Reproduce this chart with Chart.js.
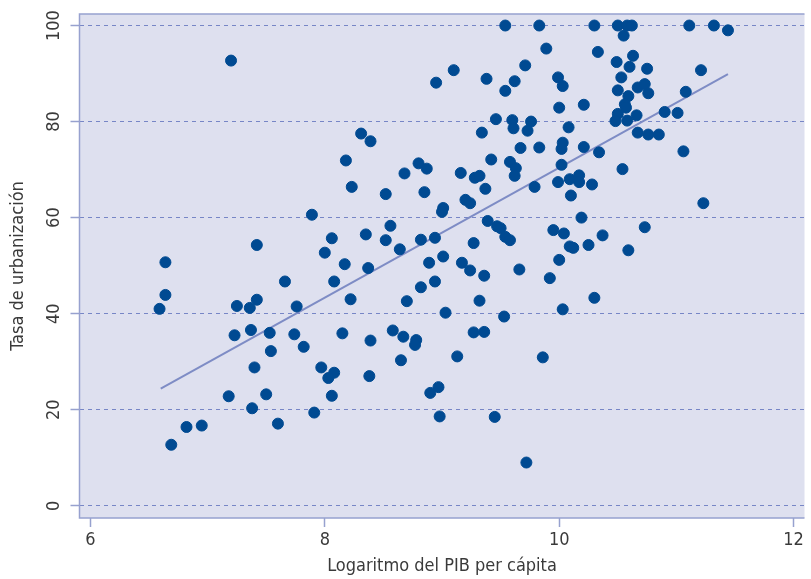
<!DOCTYPE html>
<html>
<head>
<meta charset="utf-8">
<script src="https://cdn.jsdelivr.net/npm/chart.js@4.4.1/dist/chart.umd.min.js"></script>
<style>
    body { margin: 0; background: #ffffff; }
    #wrap { width: 811px; height: 579px; }
</style>
</head>
<body>
<div id="wrap"><canvas id="chart"></canvas></div>
<script>
// log GDP per capita / urbanization rate
const logGdp = [
    9.54, 9.83, 10.30, 10.50, 10.58, 10.62, 11.11, 11.32, 11.44, 10.55,
    7.20, 9.89, 10.33, 10.49, 10.63, 10.60, 10.75, 9.10, 9.71, 11.21,
    9.38, 8.95, 9.62, 9.99, 10.03, 10.53, 9.54, 10.50, 10.67, 10.73,
    10.59, 10.76, 11.08, 10.21, 10.00, 10.56, 10.57, 10.50, 10.48, 10.58,
    10.66, 10.90, 11.01, 9.46, 9.60, 9.76, 9.61, 9.73, 10.08, 9.34,
    8.31, 8.39, 10.67, 10.76, 10.85, 9.67, 9.83, 10.03, 10.02, 10.21,
    10.34, 11.06, 8.18, 9.42, 9.58, 8.80, 8.87, 9.63, 10.02, 10.54,
    8.68, 9.16, 9.28, 9.32, 9.62, 10.09, 10.17, 10.17, 9.99, 10.28,
    8.23, 9.79, 9.37, 8.85, 8.52, 10.10, 9.20, 9.24, 9.01, 9.00,
    11.23, 7.89, 10.19, 9.39, 8.56, 9.47, 9.50, 9.95, 10.73, 8.35,
    10.04, 9.54, 9.58, 10.37, 8.06, 8.52, 8.82, 8.94, 9.27, 7.42,
    10.09, 10.12, 10.25, 8.64, 10.59, 8.00, 9.01, 10.00, 6.64, 8.17,
    8.89, 9.17, 8.37, 9.24, 9.66, 9.36, 9.92, 7.66, 8.08, 8.94,
    8.82, 6.64, 10.30, 8.22, 7.42, 9.32, 8.70, 7.25, 7.36, 7.76,
    6.59, 10.03, 9.03, 9.53, 7.23, 7.37, 7.53, 7.74, 8.15, 8.58,
    8.67, 9.27, 9.36, 8.39, 8.78, 8.77, 7.82, 7.54, 9.13, 9.86,
    8.65, 7.40, 7.97, 8.08, 8.03, 8.38, 8.97, 8.90, 7.18, 7.50,
    8.06, 7.38, 7.91, 8.98, 9.45, 7.60, 6.82, 6.95, 6.69, 9.72
];
const urbanRate = [
    100, 100, 100, 100, 100, 100, 100, 100, 99.0, 97.9,
    92.7, 95.2, 94.5, 92.4, 93.7, 91.4, 91.0, 90.7, 91.7, 90.7,
    88.9, 88.1, 88.4, 89.2, 87.4, 89.2, 86.4, 86.5, 87.1, 87.8,
    85.3, 85.9, 86.2, 83.5, 82.9, 83.6, 82.9, 81.6, 80.1, 80.2,
    81.3, 82.0, 81.8, 80.5, 80.3, 80.0, 78.6, 78.1, 78.8, 77.7,
    77.5, 75.9, 77.7, 77.3, 77.3, 74.5, 74.6, 75.6, 74.3, 74.7,
    73.6, 73.8, 71.9, 72.1, 71.6, 71.3, 70.2, 70.3, 71.0, 70.1,
    69.2, 69.3, 68.3, 68.7, 68.7, 68.0, 68.8, 67.4, 67.4, 66.9,
    66.4, 66.4, 66.0, 65.3, 64.9, 64.6, 63.7, 63.0, 62.0, 61.2,
    63.0, 60.6, 60.0, 59.3, 58.3, 58.2, 57.8, 57.4, 58.0, 56.5,
    56.7, 56.0, 55.3, 56.3, 55.7, 55.3, 55.4, 55.8, 54.7, 54.3,
    54.0, 53.7, 54.3, 53.4, 53.2, 52.7, 51.9, 51.2, 50.7, 50.3,
    50.6, 50.6, 49.5, 49.0, 49.2, 47.9, 47.4, 46.7, 46.7, 46.7,
    45.5, 43.9, 43.3, 43.0, 42.9, 42.7, 42.6, 41.6, 41.2, 41.5,
    41.0, 40.9, 40.2, 39.4, 35.5, 36.6, 36.0, 35.7, 35.9, 36.5,
    35.2, 36.1, 36.2, 34.4, 34.5, 33.5, 33.1, 32.2, 31.1, 30.9,
    30.3, 28.8, 28.8, 27.7, 26.6, 27.0, 24.7, 23.5, 22.8, 23.2,
    22.9, 20.3, 19.4, 18.6, 18.5, 17.1, 16.4, 16.7, 12.7, 9.0
];

// fitted line end points
const fitX = [6.60, 11.44];
const fitY = [24.4, 89.9];

const xTicks = [6, 8, 10, 12];
const yTicks = [0, 20, 40, 60, 80, 100];

const FONT = "'Liberation Sans Narrow', 'DejaVu Sans Condensed', sans-serif";

const plotFrame = {
    id: 'plotFrame',
    beforeDraw(chart) {
        const { ctx, chartArea: a } = chart;
        ctx.save();
        ctx.fillStyle = '#dee0ef';
        ctx.fillRect(a.left, a.top, a.right - a.left, a.bottom - a.top);
        ctx.restore();
    },
    afterDraw(chart) {
        const { ctx, chartArea: a, scales } = chart;
        ctx.save();
        ctx.strokeStyle = '#97a1cf';
        ctx.lineWidth = 1.5;
        ctx.beginPath();
        ctx.moveTo(a.right, a.top);
        ctx.lineTo(a.left, a.top);
        ctx.lineTo(a.left, a.bottom);
        ctx.lineTo(a.right, a.bottom);
        ctx.stroke();
        // y tick labels, rotated like the original
        ctx.fillStyle = '#3a3a3a';
        ctx.font = '18px ' + FONT;
        ctx.textAlign = 'center';
        ctx.textBaseline = 'middle';
        yTicks.forEach(v => {
            const y = scales.y.getPixelForValue(v);
            ctx.save();
            ctx.translate(54, y);
            ctx.rotate(-Math.PI / 2);
            ctx.fillText(String(v), 0, 0);
            ctx.restore();
        });
        ctx.restore();
    }
};

document.addEventListener("DOMContentLoaded", () => {
    const ctx = document.getElementById('chart').getContext('2d');
    const points = logGdp.map((x, i) => ({ x: x, y: urbanRate[i] }));
    const fit = fitX.map((x, i) => ({ x: x, y: fitY[i] }));

    new Chart(ctx, {
        type: 'scatter',
        data: {
            datasets: [{
                type: 'line',
                data: fit,
                borderColor: '#7e8cc5',
                borderWidth: 2,
                pointRadius: 0,
                fill: false,
                order: 2
            }, {
                data: points,
                backgroundColor: '#004a92',
                borderColor: '#004a92',
                pointRadius: 5.5,
                pointHoverRadius: 5.5,
                order: 1
            }]
        },
        options: {
            responsive: true,
            maintainAspectRatio: false,
            animation: false,
            layout: { padding: { top: 14, right: 0, left: 0, bottom: 0 } },
            plugins: {
                legend: { display: false },
                tooltip: { enabled: false }
            },
            scales: {
                x: {
                    type: 'linear',
                    min: 5.907,
                    max: 12.093,
                    afterBuildTicks: axis => { axis.ticks = xTicks.map(v => ({ value: v })); },
                    afterFit: axis => { axis.height = 61; },
                    border: { display: false },
                    grid: {
                        drawOnChartArea: false,
                        drawTicks: true,
                        tickLength: 9,
                        tickColor: '#97a1cf',
                        tickWidth: 1.5
                    },
                    ticks: {
                        color: '#3a3a3a',
                        font: { family: FONT, size: 18 },
                        padding: 3,
                        maxRotation: 0
                    },
                    title: {
                        display: true,
                        text: 'Logaritmo del PIB per cápita',
                        color: '#3a3a3a',
                        font: { family: FONT, size: 18 },
                        padding: { top: 0, bottom: 2 }
                    }
                },
                y: {
                    type: 'linear',
                    min: -2.55,
                    max: 102.4,
                    afterBuildTicks: axis => { axis.ticks = yTicks.map(v => ({ value: v })); },
                    afterFit: axis => { axis.width = 79.5; },
                    border: { display: false, dash: [4, 4] },
                    grid: {
                        color: '#7786c6',
                        lineWidth: 1,
                        tickLength: 9,
                        tickColor: '#97a1cf',
                        tickBorderDash: [],
                        tickWidth: 1.5
                    },
                    ticks: { display: false },
                    title: {
                        display: true,
                        text: 'Tasa de urbanización',
                        color: '#3a3a3a',
                        font: { family: FONT, size: 18 },
                        padding: { top: 8, bottom: 0 }
                    }
                }
            }
        },
        plugins: [plotFrame]
    });
});
</script>
</body>
</html>
